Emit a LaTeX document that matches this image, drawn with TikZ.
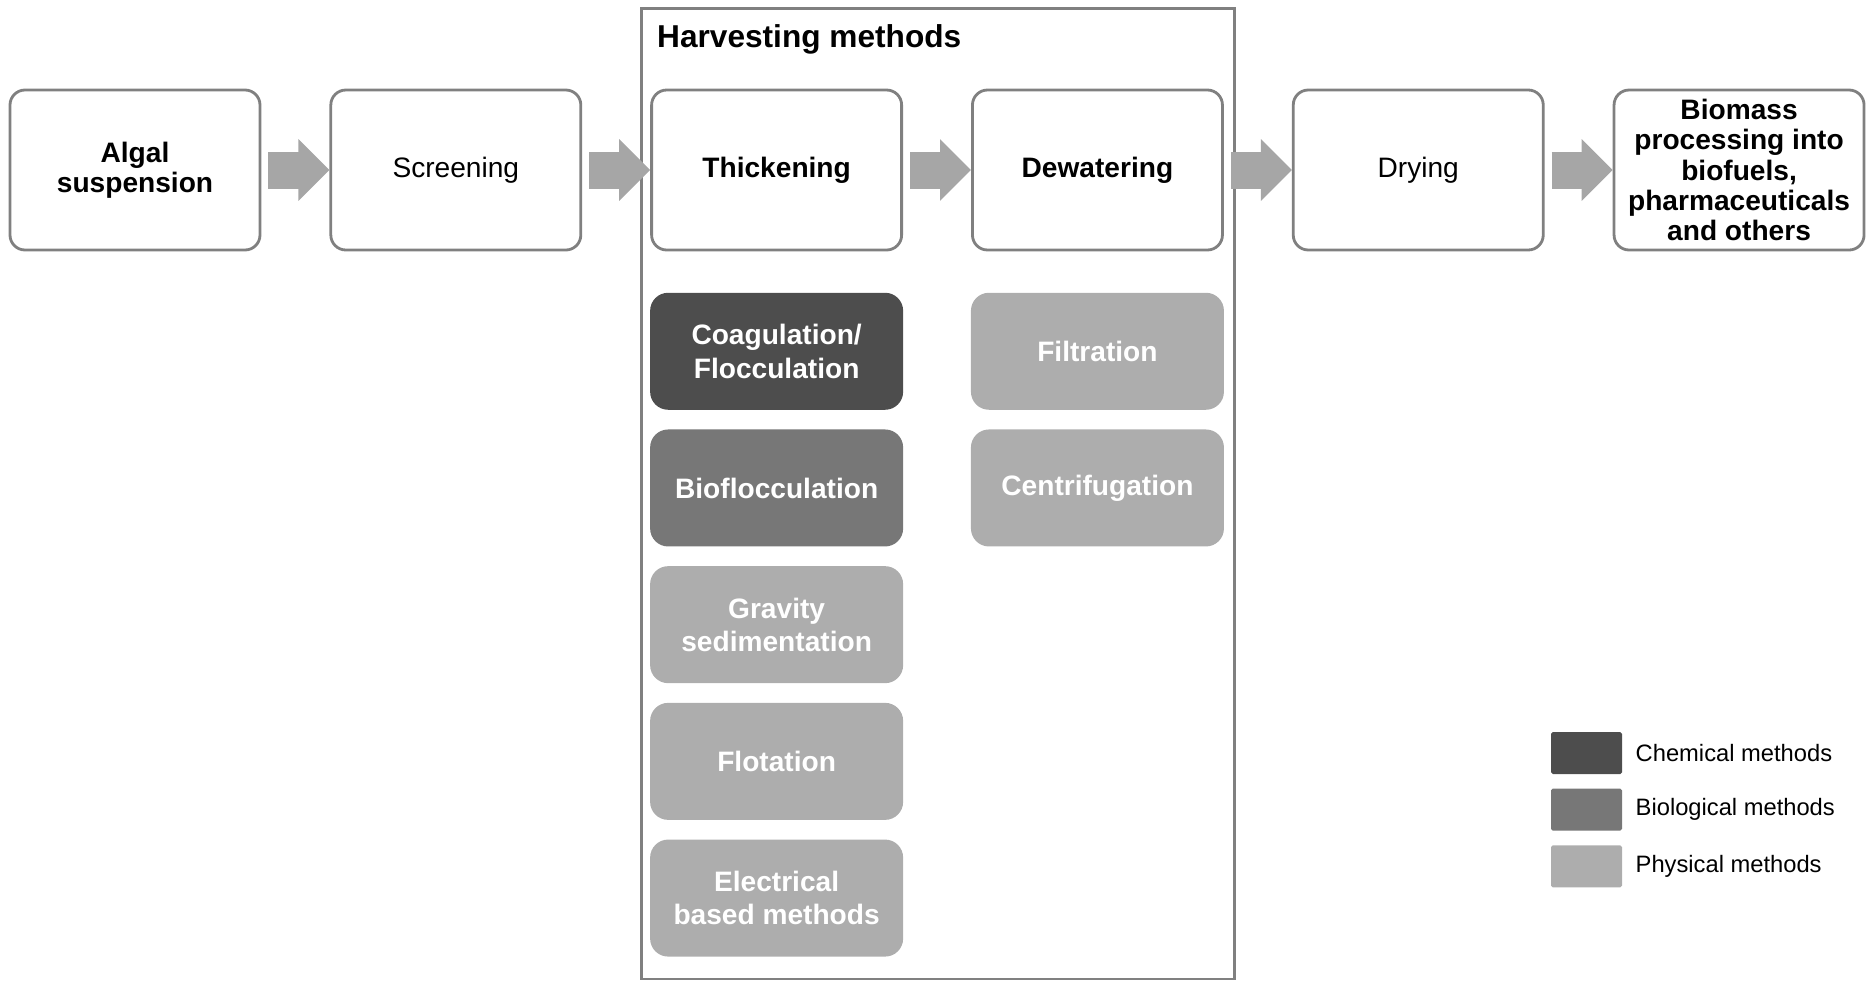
\documentclass[tikz,border=0pt]{standalone}
\usepackage{fontspec}
\setmainfont{Liberation Sans}
\usetikzlibrary{arrows.meta,positioning}
\definecolor{boxGray}{HTML}{808080}
\definecolor{arrowGray}{HTML}{A6A6A6}
\definecolor{chemGray}{HTML}{4D4D4D}
\definecolor{bioGray}{HTML}{777777}
\definecolor{physGray}{HTML}{ADADAD}

\begin{document}
\begin{tikzpicture}[
    node distance = 1.36cm,
    align=center,
    stage/.style = {rectangle, draw=boxGray, line width=1.6pt, fill=white, rounded corners=0.3cm, font=\fontsize{16pt}{17.2pt}\selectfont, minimum width=5.0cm, minimum height=3.2cm, inner sep=1pt},
    bold/.style = {font=\fontsize{16pt}{17.2pt}\selectfont\bfseries},
    method/.style = {rectangle, rounded corners=0.36cm, text=white, font=\fontsize{16pt}{19pt}\selectfont\bfseries, minimum width=5.06cm, minimum height=2.34cm},
    swatch/.style = {rectangle, rounded corners=1pt, minimum width=1.42cm, minimum height=0.84cm},
    keytext/.style = {anchor=west, inner sep=0pt, font=\fontsize{13.5pt}{15pt}\selectfont},
    flow/.style = {line width=0.74cm, color=arrowGray, -{Triangle[length=0.62cm, width=1.2cm]}, shorten <=0.14cm}
]
    \useasboundingbox (0,0) rectangle (37.52,-19.62);

    % Harvesting frame
    \draw [boxGray, line width=1.6pt] (12.83,-0.17) rectangle (24.69,-19.58);
    \node [anchor=west, font=\fontsize{18pt}{20pt}\selectfont\bfseries] (harvest) at (13.02,-0.79) {Harvesting methods};

    % Process stages
    \node [stage, bold] (algal) at (2.7,-3.4) {Algal\\suspension};
    \node [stage, right=of algal] (screen) {Screening};
    \node [stage, bold, right=of screen] (thick) {Thickening};
    \node [stage, bold, right=of thick] (dewater) {Dewatering};
    \node [stage, right=of dewater] (dry) {Drying};
    \node [stage, bold, right=of dry] (biomass) {Biomass\\processing into\\biofuels,\\pharmaceuticals\\and others};

    % Thickening methods
    \node [method, fill=chemGray, below=0.82cm of thick] (coag) {Coagulation/\\Flocculation};
    \node [method, fill=bioGray, below=0.38cm of coag] (bioflocc) {Bioflocculation};
    \node [method, fill=physGray, below=0.38cm of bioflocc] (gravity) {Gravity\\sedimentation};
    \node [method, fill=physGray, below=0.38cm of gravity] (flot) {Flotation};
    \node [method, fill=physGray, below=0.38cm of flot] (elec) {Electrical\\based methods};

    % Dewatering methods
    \node [method, fill=physGray, below=0.82cm of dewater] (filt) {Filtration};
    \node [method, fill=physGray, below=0.38cm of filt] (centri) {Centrifugation};

    % Connections
    \draw [flow] (algal) -- (screen);
    \draw [flow] (screen) -- (thick);
    \draw [flow] (thick) -- (dewater);
    \draw [flow] (dewater) -- (dry);
    \draw [flow] (dry) -- (biomass);

    % Legend
    \node [swatch, fill=chemGray] (chem) at (31.73,-15.06) {};
    \node [swatch, fill=bioGray, below=0.28cm of chem] (bio) {};
    \node [swatch, fill=physGray, below=0.28cm of bio] (phys) {};
    \node [keytext, right=0.26cm of chem] (chemlabel) {Chemical methods};
    \node [keytext, right=0.26cm of bio] (biolabel) {Biological methods};
    \node [keytext, right=0.26cm of phys] (physlabel) {Physical methods};
\end{tikzpicture}
\end{document}
